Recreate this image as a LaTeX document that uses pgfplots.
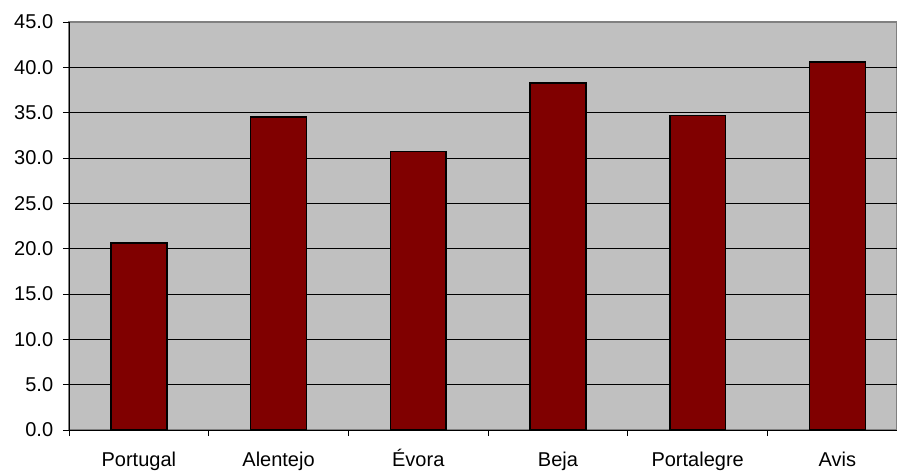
\documentclass[border=0pt]{standalone}
\usepackage{pgfplots}
\pgfplotsset{compat=1.18}
\usepackage{fontspec}
\setmainfont{Liberation Sans}
\definecolor{plotbg}{HTML}{C0C0C0}
\definecolor{barred}{HTML}{800000}
\definecolor{frame}{HTML}{808080}
\begin{document}
\fontsize{20}{24}\selectfont
\begin{tikzpicture}
\begin{axis}[
  at={(0,0)}, anchor=south west,
  scale only axis,
  width=828pt, height=408pt,
  xmin=-0.5, xmax=5.427,
  ymin=0, ymax=45,
  axis background/.style={fill=plotbg, draw=frame, line width=1.2pt},
  axis x line*=bottom, axis y line*=left,
  axis line style={black, line width=0.9pt, -},
  xtick={0,1,2,3,4,5},
  xticklabels={Portugal,Alentejo,Évora,Beja,Portalegre,Avis},
  minor xtick={-0.5,0.5,1.5,2.5,3.5,4.5},
  major tick length=6pt,
  minor tick length=6pt,
  xtick style={draw=none},
  minor x tick style={draw=black, line width=0.9pt},
  ytick={0,5,...,40},
  extra y ticks={45},
  extra y tick style={grid=none},
  y tick style={draw=black, line width=0.9pt},
  tick align=outside,
  ymajorgrids,
  major grid style={black, line width=0.7pt},
  yticklabel={\pgfmathprintnumber[fixed,fixed zerofill,precision=1]{\tick}},
  extra y tick labels={45.0},
  /pgf/number format/assume math mode=true,
  ticklabel style={font=\fontsize{20}{24}\selectfont},
  yticklabel style={xshift=-3pt},
  xticklabel style={anchor=north, text height=15pt, text depth=5pt, yshift=-9pt},
  ybar, bar width=0.4,
]
\addplot[fill=barred, draw=black, line width=1.6pt] coordinates {
  (0,20.6) (1,34.5) (2,30.7) (3,38.3) (4,34.7) (5,40.6)
};
\end{axis}
\pgfresetboundingbox
\useasboundingbox (-69pt,-44pt) rectangle (828pt,430pt);
\end{tikzpicture}
\end{document}
